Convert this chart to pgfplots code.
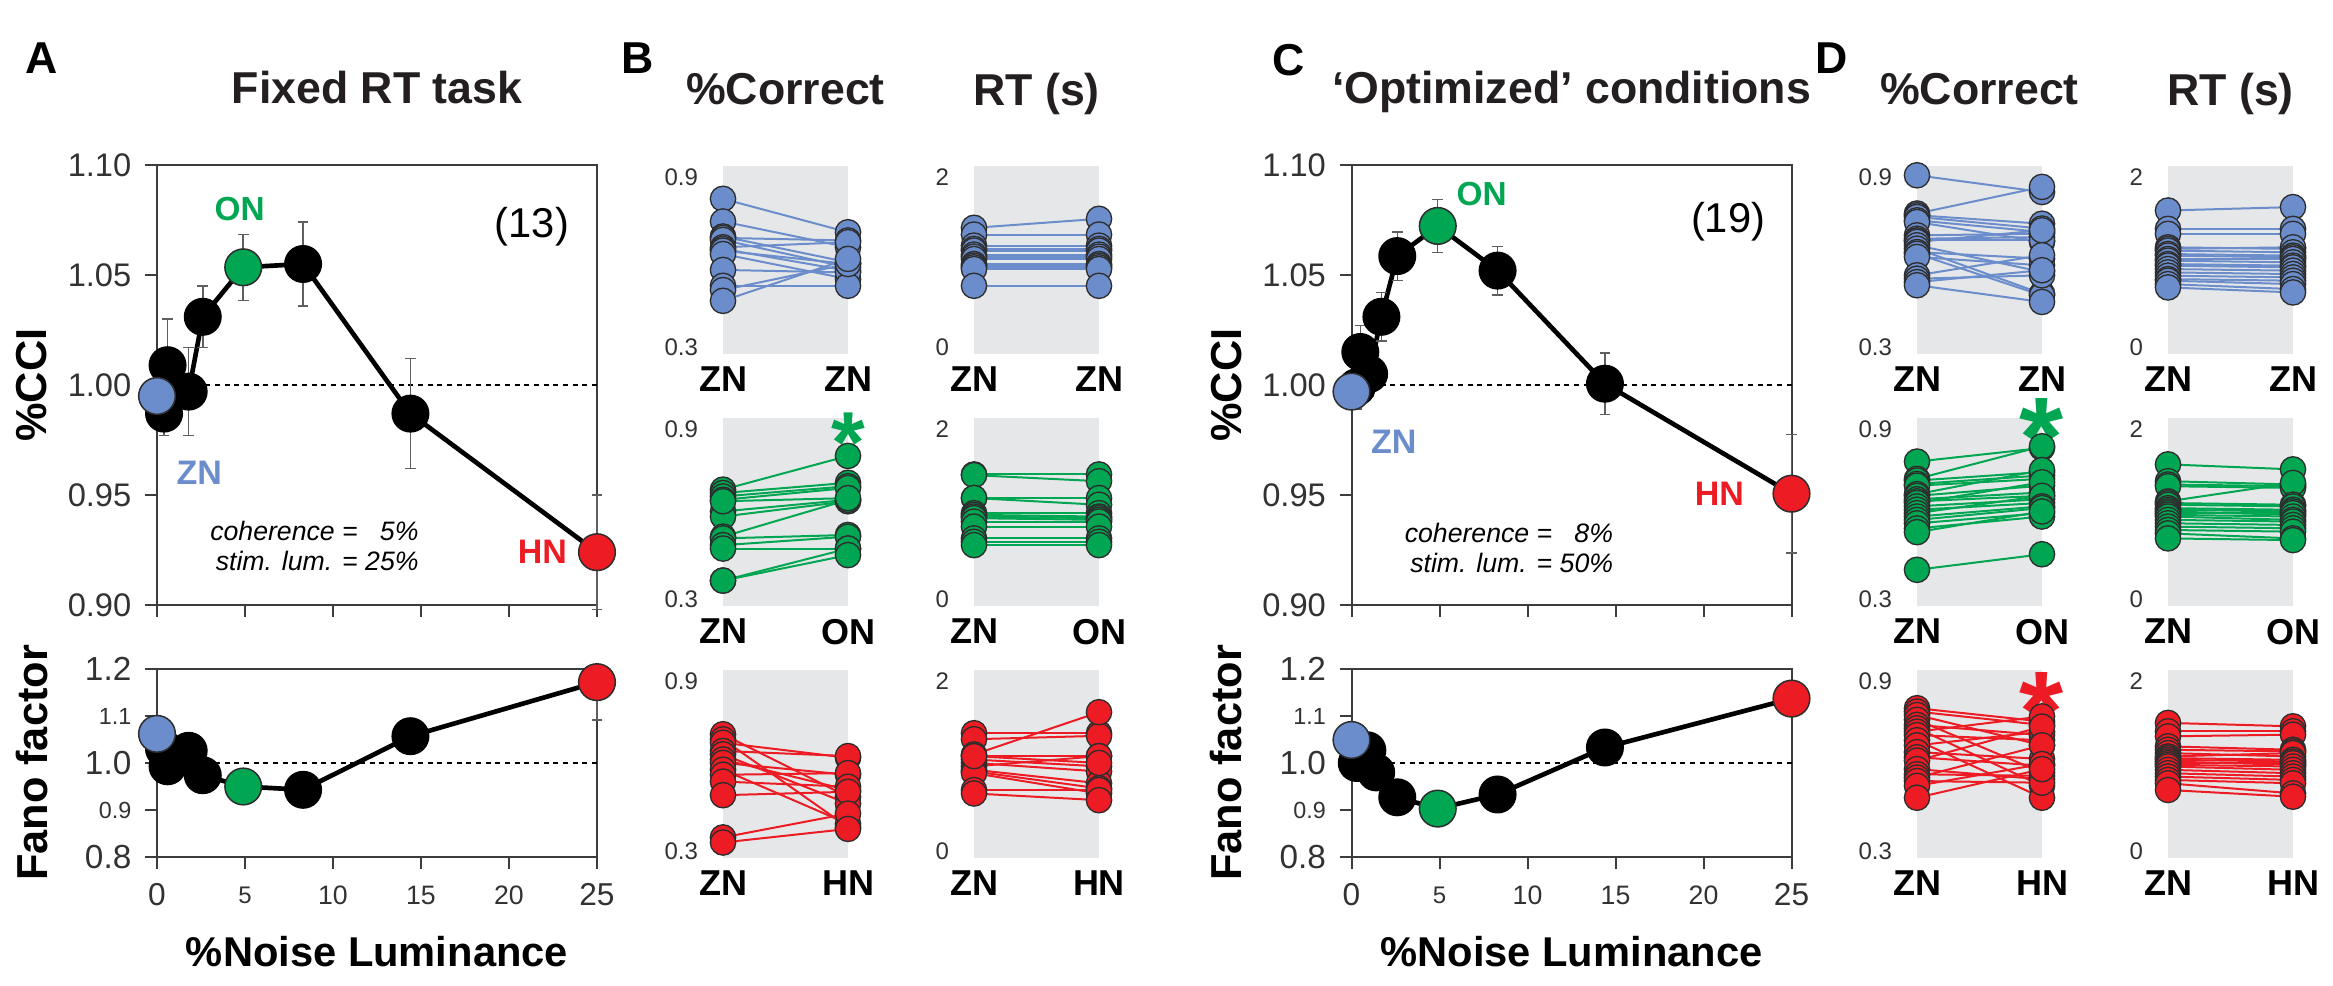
\documentclass[border=0pt]{standalone}
\usepackage{fontspec}
\setmainfont{Liberation Sans}
\usepackage{pgfplots}
\usepackage{pgfplotstable}
\pgfplotsset{compat=1.18}

\definecolor{zblue}{RGB}{108,141,203}
\definecolor{ogreen}{RGB}{0,166,81}
\definecolor{hred}{RGB}{237,28,36}
\definecolor{boxgray}{RGB}{230,231,232}
\definecolor{framegray}{RGB}{60,60,60}
\definecolor{txtgray}{RGB}{50,50,50}
\definecolor{titlegray}{RGB}{35,31,32}
\definecolor{errgray}{RGB}{95,95,95}
\definecolor{mkedge}{RGB}{45,45,45}

\newcommand{\fs}[1]{\fontsize{#1}{#1}\selectfont}

\pgfplotsset{
  every axis/.append style={/pgf/number format/assume math mode=true},
  bigax/.style={scale only axis, width=132pt, xmin=0, xmax=25, clip=false,
    axis line style={draw=framegray, line width=0.6pt},
    tick style={draw=framegray, line width=0.6pt},
    major tick length=3.6pt, tick align=outside, tick pos=left,
    xtick={0,5,10,15,20,25},
    tick label style={text=txtgray},
    yticklabel style={font=\fs{9.8pt}, inner sep=0pt, anchor=east, xshift=-3.9pt},
    xticklabel style={inner sep=0pt, anchor=center, yshift=-7.8pt},
    every axis y label/.style={at={([xshift=-37.6pt]axis description cs:0,0.5)}, rotate=90, anchor=center, font=\bfseries\fs{13pt}},
    every axis x label/.style={at={([yshift=-28.5pt]axis description cs:0.5,0)}, anchor=center, font=\bfseries\fs{12.5pt}},
    every axis title/.style={at={([yshift=18.6pt]axis description cs:0.5,1)}, anchor=base, font=\bfseries\fs{13.4pt}, text=titlegray},
  },
  ccix/.style={height=132pt, ymin=0.9, ymax=1.1,
    ytick={0.9,0.95,1,1.05,1.1}, yticklabels={0.90,0.95,1.00,1.05,1.10}, xticklabels={}},
  fanox/.style={height=56.4pt, ymin=0.8, ymax=1.2,
    ytick={0.8,0.9,1,1.1,1.2},
    yticklabels={{\fs{10pt}0.8},{\fs{7pt}0.9},{\fs{10pt}1.0},{\fs{7pt}1.1},{\fs{10pt}1.2}},
    xticklabels={{\fs{9.5pt}0},{\fs{7.2pt}5},{\fs{8pt}10},{\fs{8pt}15},{\fs{8pt}20},{\fs{9.5pt}25}},
    xlabel={\%Noise Luminance}, ylabel={Fano factor}},
  zeroline/.style={black, line width=0.6pt, dash pattern=on 1.5pt off 1.4pt, forget plot},
  blackline/.style={black, line width=1.4pt, mark=none,
    error bars/y dir=both, error bars/y explicit,
    error bars/error bar style={draw=errgray, line width=0.45pt, solid},
    error bars/error mark options={draw=errgray, rotate=90, mark size=1.6pt, line width=0.45pt}},
  bigmark/.style={only marks, mark=*, mark size=5.5pt, mark options={fill=#1, draw=mkedge, line width=0.45pt}},
  blackmark/.style={only marks, mark=*, mark size=5.5pt, mark options={fill=black, draw=black}},
  smallax/.style={scale only axis, width=37.5pt, height=56.4pt, xmin=0, xmax=1, clip=false,
    axis background/.style={fill=boxgray}, axis line style={draw=none},
    major tick length=0pt, tick style={draw=none},
    xtick={0,1},
    xticklabel style={font=\bfseries\fs{10.8pt}, text=black, inner sep=0pt, anchor=north, yshift=-3.75pt},
    yticklabel style={font=\fs{7.2pt}, text=txtgray, inner sep=0pt, anchor=east, xshift=-7.3pt},
    every axis title/.style={at={([yshift=18.3pt]axis description cs:0.5,1)}, anchor=base, font=\bfseries\fs{13.4pt}, text=titlegray}},
  pcax/.style={ymin=0.2753, ymax=0.9388, ytick={0.3,0.9}, yticklabels={0.3,0.9}},
  rtax/.style={ymin=-0.0824, ymax=2.1294, ytick={0,2}, yticklabels={0,2}},
  pline/.style={color=#1, line width=0.6pt, mark=none},
  pmark/.style={only marks, mark=*, mark size=3.8pt, mark options={fill=#1, draw=mkedge, line width=0.4pt}},
}

\newcommand{\pairs}[2]{%
  \addplot[pline=#1, quiver={u=1, v=\thisrow{o}-\thisrow{z}}] table[x expr=0, y=z] {#2};
  \addplot[pmark=#1] table[x expr=0, y=z] {#2};
  \addplot[pmark=#1] table[x expr=1, y=o] {#2};}

% panel B: one row per subject, z = ZN condition, o = other condition
\pgfplotstableread{
z o
0.823 0.705
0.743 0.652
0.690 0.599
0.685 0.676
0.678 0.581
0.652 0.670
0.646 0.569
0.640 0.593
0.628 0.540
0.572 0.563
0.516 0.516
0.501 0.593
0.463 0.611
}\Bpzz
\pgfplotstableread{
z o
1.402 1.508
1.323 1.323
1.193 1.193
1.154 1.154
1.134 1.134
1.087 1.087
1.063 1.063
1.035 1.035
0.976 0.976
0.957 0.957
0.937 0.937
0.917 0.917
0.720 0.720
}\Brzz
\pgfplotstableread{
z o
0.686 0.805
0.674 0.710
0.662 0.698
0.650 0.692
0.609 0.650
0.591 0.645
0.520 0.650
0.514 0.526
0.490 0.520
0.478 0.478
0.365 0.478
0.365 0.455
0.645 0.656
}\Bpzo
\pgfplotstableread{
z o
1.465 1.465
1.457 1.386
1.188 1.188
1.188 1.109
1.010 1.010
0.990 0.970
0.970 0.951
0.951 0.931
0.911 0.911
0.852 0.852
0.713 0.713
0.673 0.673
0.634 0.634
}\Brzo
\pgfplotstableread{
z o
0.712 0.491
0.694 0.384
0.682 0.629
0.653 0.635
0.641 0.467
0.623 0.515
0.611 0.569
0.587 0.396
0.569 0.575
0.545 0.527
0.497 0.509
0.348 0.432
0.330 0.378
}\Bpzh
\pgfplotstableread{
z o
1.386 1.386
1.315 1.355
1.135 1.633
1.116 1.116
1.076 0.996
1.036 0.936
0.996 1.116
0.956 0.797
0.936 0.737
0.916 0.677
0.717 0.717
0.677 0.598
1.116 1.036
}\Brzh

% panel D
\pgfplotstableread{
z o
0.906 0.847
0.771 0.865
0.765 0.735
0.759 0.718
0.747 0.706
0.741 0.671
0.694 0.700
0.682 0.688
0.676 0.676
0.671 0.712
0.659 0.565
0.647 0.488
0.635 0.612
0.629 0.482
0.618 0.588
0.553 0.624
0.541 0.553
0.529 0.571
0.518 0.459
}\Dpzz
\pgfplotstableread{
z o
1.606 1.646
1.390 1.390
1.331 1.331
1.173 1.154
1.154 1.173
1.134 1.114
1.094 1.075
1.075 1.055
1.035 1.035
1.016 0.996
0.976 0.957
0.957 0.937
0.917 0.898
0.878 0.858
0.839 0.819
0.799 0.780
0.780 0.740
0.740 0.681
0.701 0.642
}\Drzz
\pgfplotstableread{
z o
0.785 0.833
0.724 0.839
0.718 0.748
0.706 0.736
0.700 0.724
0.670 0.755
0.664 0.700
0.652 0.676
0.645 0.664
0.639 0.712
0.627 0.652
0.615 0.639
0.603 0.664
0.591 0.627
0.579 0.621
0.567 0.603
0.549 0.591
0.536 0.609
0.403 0.458
}\Dpzo
\pgfplotstableread{
z o
1.584 1.525
1.386 1.347
1.347 1.327
1.327 1.307
1.149 1.366
1.129 1.109
1.109 1.089
1.069 1.050
1.050 1.030
1.030 0.990
1.010 1.010
0.990 0.970
0.970 0.931
0.931 0.911
0.891 0.871
0.852 0.832
0.812 0.792
0.772 0.713
0.713 0.693
}\Drzo
\pgfplotstableread{
z o
0.804 0.757
0.792 0.745
0.780 0.673
0.763 0.577
0.745 0.709
0.733 0.530
0.721 0.775
0.709 0.691
0.691 0.488
0.673 0.721
0.649 0.625
0.631 0.601
0.619 0.739
0.589 0.553
0.571 0.565
0.559 0.673
0.547 0.541
0.530 0.607
0.488 0.589
}\Dpzh
\pgfplotstableread{
z o
1.507 1.467
1.408 1.408
1.349 1.369
1.231 1.191
1.191 1.172
1.152 1.112
1.112 1.152
1.093 1.073
1.073 1.053
1.053 1.014
1.033 1.033
1.014 0.994
0.994 0.955
0.955 0.915
0.915 0.876
0.876 0.836
0.836 0.797
0.797 0.678
0.718 0.639
}\Drzh

\begin{document}
\begin{tikzpicture}
\useasboundingbox (0,0) rectangle (699.9pt,295.5pt);

\node[font=\bfseries\fs{13.4pt}] at (12.6pt,278.1pt) {A};
\node[font=\bfseries\fs{13.4pt}] at (191.25pt,278.1pt) {B};
\node[font=\bfseries\fs{13.4pt}] at (386.55pt,277.5pt) {C};
\node[font=\bfseries\fs{13.4pt}] at (549.6pt,278.1pt) {D};

% ---------- A ----------
\begin{axis}[bigax, ccix, at={(47.1pt,114pt)}, ylabel={\%CCI}, title={Fixed RT task}]
\addplot[zeroline] coordinates {(0,1) (25,1)};
\addplot[blackline] coordinates {
(0,0.995) +- (0,0)
(0.4,0.987) +- (0,0.01)
(0.6,1.009) +- (0,0.021)
(1.8,0.997) +- (0,0.02)
(2.6,1.031) +- (0,0.014)
(4.9,1.0535) +- (0,0.015)
(8.3,1.055) +- (0,0.019)
(14.4,0.987) +- (0,0.025)
(25,0.924) +- (0,0.026)
};
\addplot[blackmark] coordinates {(0.4,0.987) (0.6,1.009) (1.8,0.997) (2.6,1.031) (8.3,1.055) (14.4,0.987)};
\addplot[bigmark=zblue] coordinates {(0,0.995)};
\addplot[bigmark=ogreen] coordinates {(4.9,1.0535)};
\addplot[bigmark=hred] coordinates {(25,0.924)};
\node[font=\bfseries\fs{10pt}, text=ogreen] at (axis cs:4.7,1.0798) {ON};
\node[font=\bfseries\fs{10.2pt}, text=zblue] at (axis cs:2.4,0.960) {ZN};
\node[font=\bfseries\fs{10.2pt}, text=hred] at (axis cs:21.9,0.924) {HN};
\node[font=\fs{12.5pt}] at (axis cs:21.3,1.072) {(13)};
\node[anchor=east, align=right, inner sep=0pt, font=\itshape\fontsize{8pt}{9pt}\selectfont] at (axis cs:14.9,0.927) {coherence = \phantom{2}5\%\\stim. lum. = 25\%};
\end{axis}

\begin{axis}[bigax, fanox, at={(47.1pt,38.4pt)}]
\addplot[zeroline] coordinates {(0,1) (25,1)};
\addplot[blackline, error bars/y dir=minus] coordinates {
(0,1.062) +- (0,0)
(0.4,1.03) +- (0,0)
(0.6,0.993) +- (0,0)
(1.8,1.026) +- (0,0)
(2.6,0.974) +- (0,0)
(4.9,0.950) +- (0,0)
(8.3,0.943) +- (0,0)
(14.4,1.057) +- (0,0)
(25,1.172) +- (0,0.08)
};
\addplot[blackmark] coordinates {(0.4,1.03) (0.6,0.993) (1.8,1.026) (2.6,0.974) (8.3,0.943) (14.4,1.057)};
\addplot[bigmark=zblue] coordinates {(0,1.062)};
\addplot[bigmark=ogreen] coordinates {(4.9,0.950)};
\addplot[bigmark=hred] coordinates {(25,1.172)};
\end{axis}

% ---------- B ----------
\begin{axis}[smallax, pcax, at={(216.9pt,189.3pt)}, xticklabels={ZN,ZN}, title={\%Correct}]
\pairs{zblue}{\Bpzz}
\end{axis}
\begin{axis}[smallax, rtax, at={(292.2pt,189.3pt)}, xticklabels={ZN,ZN}, title={RT (s)}]
\pairs{zblue}{\Brzz}
\end{axis}
\begin{axis}[smallax, pcax, at={(216.9pt,113.7pt)}, xticklabels={ZN,ON}]
\pairs{ogreen}{\Bpzo}
\node[anchor=north, inner sep=0pt, text=ogreen, font=\bfseries\fs{26pt}] at (axis description cs:1,1.03) {*};
\end{axis}
\begin{axis}[smallax, rtax, at={(292.2pt,113.7pt)}, xticklabels={ZN,ON}]
\pairs{ogreen}{\Brzo}
\end{axis}
\begin{axis}[smallax, pcax, at={(216.9pt,38.1pt)}, xticklabels={ZN,HN}]
\pairs{hred}{\Bpzh}
\end{axis}
\begin{axis}[smallax, rtax, at={(292.2pt,38.1pt)}, xticklabels={ZN,HN}]
\pairs{hred}{\Brzh}
\end{axis}

% ---------- C ----------
\begin{axis}[bigax, ccix, at={(405.45pt,114pt)}, ylabel={\%CCI}, title={‘Optimized’ conditions}]
\addplot[zeroline] coordinates {(0,1) (25,1)};
\addplot[blackline] coordinates {
(0,0.997) +- (0,0)
(0.3,0.999) +- (0,0.01)
(0.5,1.015) +- (0,0.012)
(1.0,1.005) +- (0,0.01)
(1.7,1.031) +- (0,0.011)
(2.6,1.0586) +- (0,0.011)
(4.9,1.0723) +- (0,0.012)
(8.3,1.052) +- (0,0.011)
(14.4,1.0006) +- (0,0.014)
(25,0.9506) +- (0,0.027)
};
\addplot[blackmark] coordinates {(0.3,0.999) (0.5,1.015) (1.0,1.005) (1.7,1.031) (2.6,1.0586) (8.3,1.052) (14.4,1.0006)};
\addplot[bigmark=zblue] coordinates {(0,0.997)};
\addplot[bigmark=ogreen] coordinates {(4.9,1.0723)};
\addplot[bigmark=hred] coordinates {(25,0.9506)};
\node[font=\bfseries\fs{10pt}, text=ogreen] at (axis cs:7.4,1.0866) {ON};
\node[font=\bfseries\fs{10.2pt}, text=zblue] at (axis cs:2.4,0.974) {ZN};
\node[font=\bfseries\fs{10.2pt}, text=hred] at (axis cs:20.9,0.9506) {HN};
\node[font=\fs{12.5pt}] at (axis cs:21.4,1.074) {(19)};
\node[anchor=east, align=right, inner sep=0pt, font=\itshape\fontsize{8pt}{9pt}\selectfont] at (axis cs:14.9,0.926) {coherence = \phantom{2}8\%\\stim. lum. = 50\%};
\end{axis}

\begin{axis}[bigax, fanox, at={(405.45pt,38.4pt)}]
\addplot[zeroline] coordinates {(0,1) (25,1)};
\addplot[black, line width=1.4pt, mark=none] coordinates {
(0,1.049) (0.3,1.0) (0.9,1.027) (1.4,0.98) (2.6,0.927) (4.9,0.903) (8.3,0.933) (14.4,1.033) (25,1.137)
};
\addplot[blackmark] coordinates {(0.3,1.0) (0.9,1.027) (1.4,0.98) (2.6,0.927) (8.3,0.933) (14.4,1.033)};
\addplot[bigmark=zblue] coordinates {(0,1.049)};
\addplot[bigmark=ogreen] coordinates {(4.9,0.903)};
\addplot[bigmark=hred] coordinates {(25,1.137)};
\end{axis}

% ---------- D ----------
\begin{axis}[smallax, pcax, at={(575.1pt,189.3pt)}, xticklabels={ZN,ZN}, title={\%Correct}]
\pairs{zblue}{\Dpzz}
\end{axis}
\begin{axis}[smallax, rtax, at={(650.4pt,189.3pt)}, xticklabels={ZN,ZN}, title={RT (s)}]
\pairs{zblue}{\Drzz}
\end{axis}
\begin{axis}[smallax, pcax, at={(575.1pt,113.7pt)}, xticklabels={ZN,ON}]
\pairs{ogreen}{\Dpzo}
\node[anchor=north, inner sep=0pt, text=ogreen, font=\bfseries\fs{34pt}] at (axis description cs:1,1.106) {*};
\end{axis}
\begin{axis}[smallax, rtax, at={(650.4pt,113.7pt)}, xticklabels={ZN,ON}]
\pairs{ogreen}{\Drzo}
\end{axis}
\begin{axis}[smallax, pcax, at={(575.1pt,38.1pt)}, xticklabels={ZN,HN}]
\pairs{hred}{\Dpzh}
\node[anchor=north, inner sep=0pt, text=hred, font=\bfseries\fs{34pt}] at (axis description cs:1,0.989) {*};
\end{axis}
\begin{axis}[smallax, rtax, at={(650.4pt,38.1pt)}, xticklabels={ZN,HN}]
\pairs{hred}{\Drzh}
\end{axis}

\end{tikzpicture}
\end{document}
